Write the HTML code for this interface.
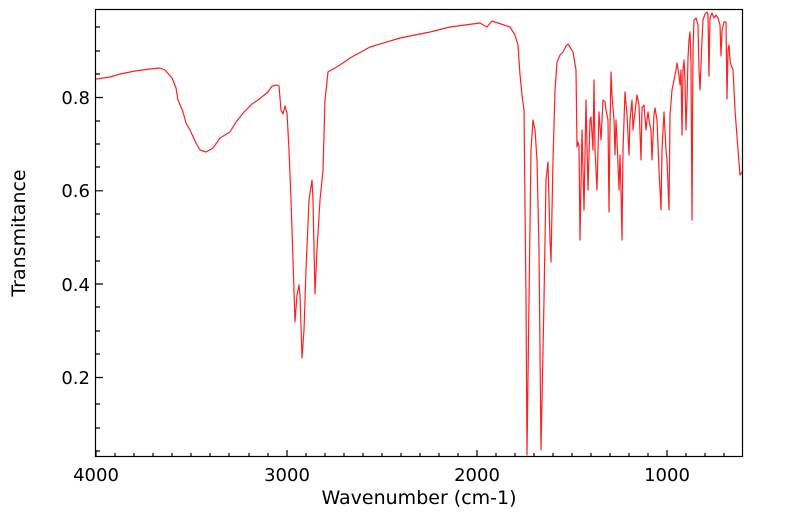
<!DOCTYPE html>
<html><head><meta charset="utf-8"><style>
html,body{margin:0;padding:0;background:#fff;width:799px;height:516px;overflow:hidden}
text{font-family:"DejaVu Sans","Liberation Sans",sans-serif;fill:#000}
</style></head><body>
<svg width="799" height="516" viewBox="0 0 799 516" xmlns="http://www.w3.org/2000/svg">
<rect x="0" y="0" width="799" height="516" fill="#fff"/>
<g stroke="#000" stroke-width="1.2" fill="none">
<rect x="95.5" y="9.5" width="647" height="447"/>
<path d="M96 97.5h7M96 190.8h7M96 284h7M96 377.5h7"/>
<path d="M96 451h4M96 428h4M96 404h4M96 354h4M96 331h4M96 307h4M96 261h4M96 237h4M96 214h4M96 167h4M96 144h4M96 121h4M96 74h4M96 51h4M96 27h4"/>
<path d="M96 457v-7M287 457v-7M477 457v-7M667 457v-7"/>
<path d="M115 457v-4M134 457v-4M153 457v-4M172 457v-4M191 457v-4M210 457v-4M229 457v-4M249 457v-4M268 457v-4M306 457v-4M325 457v-4M344 457v-4M363 457v-4M382 457v-4M401 457v-4M420 457v-4M439 457v-4M458 457v-4M496 457v-4M515 457v-4M534 457v-4M553 457v-4M572 457v-4M591 457v-4M610 457v-4M629 457v-4M648 457v-4M686 457v-4M705 457v-4M724 457v-4"/>
</g>
<g font-size="18" text-anchor="end">
<text x="90" y="104">0.8</text>
<text x="90" y="197">0.6</text>
<text x="90" y="291">0.4</text>
<text x="90" y="384">0.2</text>
</g>
<g font-size="18" text-anchor="middle">
<text x="96" y="481">4000</text>
<text x="287" y="481">3000</text>
<text x="477" y="481">2000</text>
<text x="667" y="481">1000</text>
</g>
<g font-size="19" text-anchor="middle">
<text x="419" y="504">Wavenumber (cm-1)</text>
<text transform="translate(25,233) rotate(-90)">Transmitance</text>
</g>
<polyline fill="none" stroke="#ff2020" stroke-width="1.2" stroke-linejoin="round" points="
96,79 110,77 120,74 135,71 150,69 160,68 165,70 172,78 176,88 178,100 183,112 186,123 190,130 196,143 200,150 206,152 213,148 220,138 230,132 236,122 244,112 252,104 258,100 268,92 272,86 277,85 279,86 281,110 283,114 285,106 287,113 289,150 291,200 293,260 295,322 297,295 299,285 300,295 302,358 304,330 306,270 309,200 312,180 313,200 315,294 317,250 320,200 323,170 325,100 328,72 340,65 350,58 370,47 400,38 430,32 450,27 480,23 487,27 492,21 498,23 510,27 515,35 518,45 520,75 522,95 524,110 526,300 527,455 529,300 531,150 533,120 535,130 537,160 539,250 541,450 542,400 544,300 546,180 548,162 550,240 551,262 553,160 555,90 557,62 560,55 563,52 566,46 568,44 570,47 573,52 576,70 577,147 578,142 579,146 580,240 582,130 584,210 586,100 588,190 590,120 591,117 593,150 594,80 595,150 597,190 599,112 601,140 603,100 605,102 606,110 608,120 609,212 610,127 611,72 612,96 614,120 615,155 616,120 617,140 619,190 620,155 621,190 622,240 623,150 625,92 627,115 629,155 630,120 632,100 633,130 635,112 637,95 639,105 641,160 642,108 644,105 646,130 647,120 648,112 649,120 651,130 652,160 654,115 655,108 657,120 659,170 661,210 662,150 664,112 666,150 667,160 669,210 670,115 672,90 674,80 676,70 677,63 679,75 680,85 681,70 682,135 683,70 684,60 685,80 686,130 687,100 688,58 689,40 690,32 691,65 692,220 693,50 694,20 696,18 698,25 699,70 700,90 702,40 703,20 705,14 707,12 708,15 709,76 710,18 712,13 714,18 716,15 718,18 720,25 721,56 722,30 724,22 726,22 727,99 728,50 729,45 730,60 731,65 733,70 735,110 738,150 740,175 742,172"/>
</svg>
</body></html>
